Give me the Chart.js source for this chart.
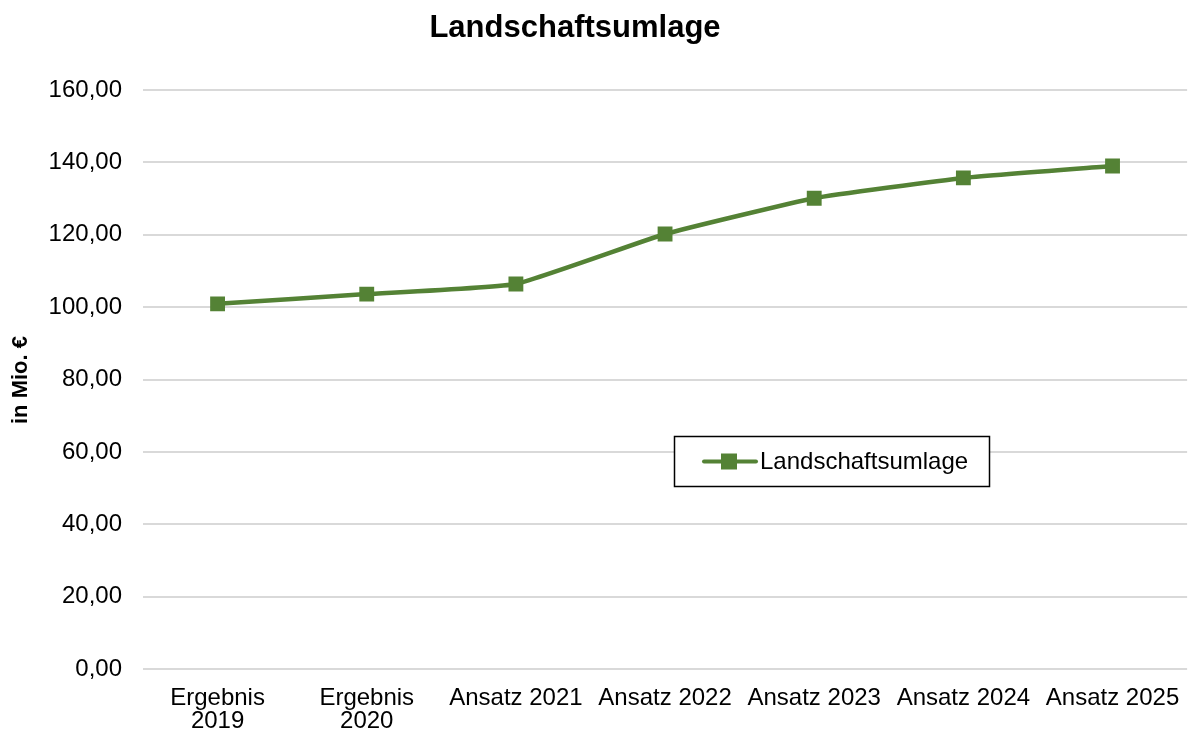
<!DOCTYPE html>
<html>
<head>
<meta charset="utf-8">
<script src="https://cdn.jsdelivr.net/npm/chart.js@4.4.1/dist/chart.umd.min.js"></script>
<style>
  html, body { margin: 0; padding: 0; background: #fff; }
  #wrap { width: 1198px; height: 738px; }
</style>
</head>
<body>
<div id="wrap"><canvas id="myChart" width="1198" height="738"></canvas></div>
<script>
// chart data
const categories = [["Ergebnis", "2019"], ["Ergebnis", "2020"], "Ansatz 2021", "Ansatz 2022", "Ansatz 2023", "Ansatz 2024", "Ansatz 2025"];
const umlage = [100.9, 103.6, 106.4, 120.2, 130.1, 135.7, 139.0];
const seriesName = "Landschaftsumlage";
const chartTitle = "Landschaftsumlage";
const yTitle = "in Mio. €";

const green = "#548235";
const font = "'Liberation Sans', Arial, sans-serif";

// title, y title and the boxed legend are drawn here
const extras = {
  id: "extras",
  afterDraw(chart) {
    const ctx = chart.ctx;
    ctx.save();
    ctx.fillStyle = "#000";
    ctx.textAlign = "center";
    ctx.textBaseline = "middle";
    ctx.font = "bold 31px " + font;
    ctx.fillText(chartTitle, 575, 28);

    ctx.save();
    ctx.translate(21, 380);
    ctx.rotate(-Math.PI / 2);
    ctx.font = "bold 22px " + font;
    ctx.fillText(yTitle, 0, 0);
    ctx.restore();

    // legend box
    const ds = chart.data.datasets[0];
    const bx = 674.5, by = 436.5, bw = 315, bh = 50;
    ctx.fillStyle = "#fff";
    ctx.fillRect(bx, by, bw, bh);
    ctx.strokeStyle = "#000";
    ctx.lineWidth = 1.5;
    ctx.strokeRect(bx, by, bw, bh);
    const cy = by + bh / 2;
    ctx.strokeStyle = ds.borderColor;
    ctx.lineWidth = 4;
    ctx.lineCap = "round";
    ctx.beginPath();
    ctx.moveTo(704, cy);
    ctx.lineTo(756, cy);
    ctx.stroke();
    ctx.fillStyle = ds.backgroundColor;
    ctx.fillRect(721, cy - 8, 16, 16);
    ctx.fillStyle = "#000";
    ctx.textAlign = "left";
    ctx.font = "24px " + font;
    ctx.fillText(ds.label, 760, cy + 1);
    ctx.restore();
  }
};

const ctx = document.getElementById("myChart").getContext("2d");
const myChart = new Chart(ctx, {
  type: "line",
  data: {
    labels: categories,
    datasets: [
      {
        label: seriesName,
        data: umlage,
        borderColor: green,
        backgroundColor: green,
        borderWidth: 4.5,
        tension: 0.12,
        pointStyle: "rect",
        pointRadius: 10.5,
        pointHoverRadius: 10.5,
        pointBorderWidth: 0,
      },
    ],
  },
  options: {
    responsive: false,
    animation: false,
    devicePixelRatio: 1,
    layout: { padding: { top: 90, right: 10, left: 0, bottom: 0 } },
    plugins: {
      legend: { display: false },
      title: { display: false },
      tooltip: { enabled: false },
    },
    scales: {
      y: {
        min: 0,
        max: 160,
        ticks: {
          stepSize: 20,
          padding: 21,
          color: "#000",
          font: { family: font, size: 24 },
          callback: (v) => v.toFixed(2).replace(".", ","),
        },
        grid: { color: "#d9d9d9", lineWidth: 2, drawTicks: false },
        border: { display: false },
        afterFit(scale) { scale.width = 143; },
      },
      x: {
        offset: true,
        ticks: {
          color: "#000",
          maxRotation: 0,
          autoSkip: false,
          padding: 18,
          font: { family: font, size: 24, lineHeight: 0.96 },
        },
        grid: { display: false, drawTicks: false },
        border: { display: false },
        afterFit(scale) { scale.height = 69; },
      },
    },
  },
  plugins: [extras],
});
</script>
</body>
</html>
